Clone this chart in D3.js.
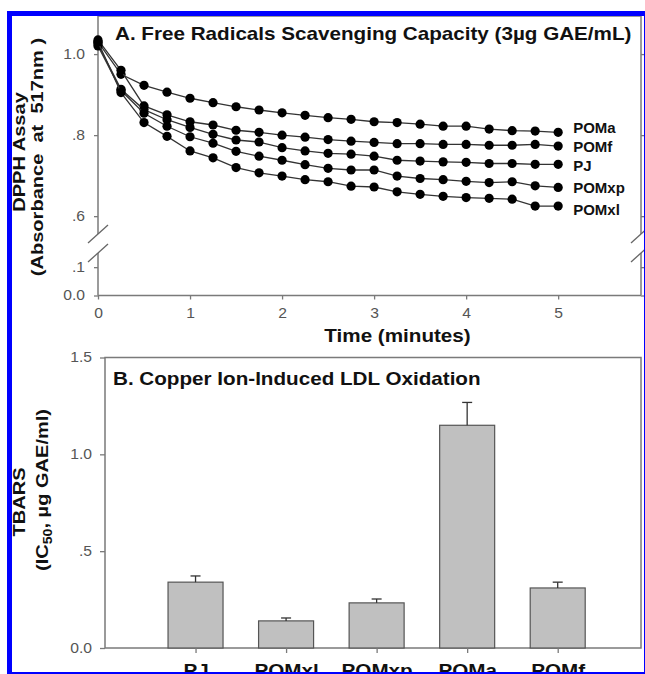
<!DOCTYPE html>
<html>
<head>
<meta charset="utf-8">
<title>DPPH scavenging and LDL oxidation</title>
<style>
  body { margin: 0; background: #fff; }
  svg text { font-family: "Liberation Sans", Arial, sans-serif; white-space: pre; }
</style>
</head>
<body>
<svg id="chart" width="645" height="674"></svg>
<script src="https://cdnjs.cloudflare.com/ajax/libs/d3/7.8.5/d3.min.js"></script>
<script>
// ---- panel A data (absorbance at 517nm vs time) ----
var times  = [0, 0.25, 0.5, 0.75, 1, 1.25, 1.5, 1.75, 2, 2.25, 2.5, 2.75, 3, 3.25, 3.5, 3.75, 4, 4.25, 4.5, 4.75, 5];
var pomA   = [1.030, 0.950, 0.923, 0.906, 0.891, 0.880, 0.870, 0.862, 0.855, 0.849, 0.843, 0.839, 0.833, 0.831, 0.827, 0.822, 0.822, 0.815, 0.811, 0.810, 0.807];
var pomF   = [1.035, 0.960, 0.872, 0.850, 0.833, 0.825, 0.812, 0.807, 0.800, 0.795, 0.789, 0.785, 0.782, 0.779, 0.779, 0.777, 0.777, 0.775, 0.775, 0.777, 0.773];
var pj     = [1.025, 0.913, 0.863, 0.838, 0.819, 0.802, 0.788, 0.783, 0.769, 0.761, 0.755, 0.753, 0.748, 0.738, 0.736, 0.734, 0.733, 0.730, 0.730, 0.728, 0.728];
var pomXp  = [1.020, 0.910, 0.854, 0.822, 0.796, 0.780, 0.760, 0.748, 0.738, 0.727, 0.718, 0.714, 0.714, 0.699, 0.693, 0.690, 0.686, 0.683, 0.685, 0.675, 0.671];
var pomXl  = [1.030, 0.905, 0.831, 0.797, 0.761, 0.744, 0.720, 0.707, 0.699, 0.690, 0.685, 0.674, 0.672, 0.660, 0.654, 0.649, 0.646, 0.644, 0.642, 0.625, 0.625];
var seriesNames = ["POMa", "POMf", "PJ", "POMxp", "POMxl"];
var seriesValues = [pomA, pomF, pj, pomXp, pomXl];

var xTicksA = [0, 1, 2, 3, 4, 5];
var yTicksA = [0, 0.1, 0.6, 0.8, 1.0];
var yTickLabelsA = ["0.0", ".1", ".6", ".8", "1.0"];

// ---- panel B data (TBARS IC50) ----
var barNames  = ["PJ", "POMxl", "POMxp", "POMa", "POMf"];
var barValues = [0.340, 0.140, 0.233, 1.150, 0.310];
var barErrors = [0.032, 0.015, 0.020, 0.118, 0.030];
var yTicksB = [0, 0.5, 1.0, 1.5];
var yTickLabelsB = ["0.0", ".5", "1.0", "1.5"];

var svg = d3.select("#chart");
var axisColor = "#7a7a7a", tickText = "#555";
var sxBold = 1.18, sxTick = 1.12;   // the figure's lettering is a little wider than Arial
var labelNudge = [-5, 0, 1, 0, 3];  // small vertical shifts of the end labels

function label(x, y, txt, size, opts) {
  opts = opts || {};
  var s = opts.sx || sxBold;
  var t = svg.append("text")
    .attr("transform", "translate(" + x + "," + y + ")" + (opts.rotate ? " rotate(" + opts.rotate + ")" : "") + " scale(" + s + ",1)")
    .attr("text-anchor", opts.anchor || "start")
    .attr("font-size", size)
    .attr("font-weight", "bold")
    .attr("fill", "#111");
  if (opts.baseline) t.attr("dominant-baseline", opts.baseline);
  t.text(txt);
  return t;
}

function styleAxis(ax, s) {
  ax.select(".domain").remove();
  ax.selectAll(".tick line").attr("stroke", axisColor).attr("stroke-width", 1.3);
  ax.selectAll(".tick text").attr("fill", tickText).attr("font-size", 14)
    .attr("font-family", "Liberation Sans, Arial, sans-serif")
    .each(function () {
      var t = d3.select(this), x = +t.attr("x") || 0;
      t.attr("x", x / s).attr("transform", "scale(" + s + ",1)");
    });
}

// ================= PANEL A =================
var A = {left: 98, right: 641, top: 16, bottom: 295.5};
var xA = d3.scaleLinear().domain([0, 5.9]).range([A.left, A.right]);
// broken y axis: 0-0.15 below the break, 0.556-1.094 above it
var yA = d3.scaleLinear().domain([0, 0.15, 0.556, 1.094]).range([A.bottom, 253, 234, A.top]);

var gA = svg.append("g");
gA.append("line").attr("x1", A.left).attr("x2", A.right).attr("y1", A.bottom).attr("y2", A.bottom).attr("stroke", axisColor).attr("stroke-width", 1.5);
gA.append("line").attr("x1", A.left).attr("x2", A.right).attr("y1", A.top).attr("y2", A.top).attr("stroke", axisColor).attr("stroke-width", 1.5);
[A.left, A.right].forEach(function (x) {
  gA.append("line").attr("x1", x).attr("x2", x).attr("y1", A.bottom).attr("y2", yA(0.15)).attr("stroke", axisColor).attr("stroke-width", 1.5);
  gA.append("line").attr("x1", x).attr("x2", x).attr("y1", yA(0.556)).attr("y2", A.top).attr("stroke", axisColor).attr("stroke-width", 1.5);
  [yA(0.556), yA(0.15)].forEach(function (y) {
    gA.append("line").attr("x1", x - 10).attr("x2", x + 10).attr("y1", y + 9).attr("y2", y - 9)
      .attr("stroke", "#666").attr("stroke-width", 1.3);
  });
});

var axYA = gA.append("g").attr("transform", "translate(" + A.left + ",0)")
  .call(d3.axisLeft(yA).tickValues(yTicksA).tickFormat(function (d, i) { return yTickLabelsA[i]; }).tickSize(4).tickPadding(9));
var axYA2 = gA.append("g").attr("transform", "translate(" + A.right + ",0)")
  .call(d3.axisRight(yA).tickValues(yTicksA).tickFormat("").tickSize(4));
var axXA = gA.append("g").attr("transform", "translate(0," + A.bottom + ")")
  .call(d3.axisBottom(xA).tickValues(xTicksA).tickFormat(d3.format("d")).tickSize(4).tickPadding(9));
[axYA, axYA2, axXA].forEach(function (ax) { styleAxis(ax, sxTick); });

var line = d3.line().x(function (d, i) { return xA(times[i]); }).y(function (d) { return yA(d); });
seriesValues.forEach(function (vals, k) {
  gA.append("path").datum(vals).attr("d", line).attr("fill", "none").attr("stroke", "#333").attr("stroke-width", 1.3);
  gA.selectAll(".dot" + k).data(vals).enter().append("circle")
    .attr("cx", function (d, i) { return xA(times[i]); })
    .attr("cy", function (d) { return yA(d); })
    .attr("r", 4.6).attr("fill", "#000");
  label(xA(5) + 15, yA(vals[vals.length - 1]) + labelNudge[k], seriesNames[k], 15, {baseline: "central", sx: 1.0});
});

label(115, 40, "A. Free Radicals Scavenging Capacity (3\u00b5g GAE/mL)", 17.5);
label((A.left + A.right) / 2 + 28, 342, "Time (minutes)", 17.5, {anchor: "middle"});
label(25, 152, "DPPH Assay", 17, {rotate: -90, anchor: "middle"});
label(43, 157, "(Absorbance  at  517nm )", 17, {rotate: -90, anchor: "middle"});

// ================= PANEL B =================
var B = {left: 105, right: 641, top: 357.5, bottom: 648};
var xB = d3.scaleLinear().domain([0, 5.92]).range([B.left, B.right]);
var yB = d3.scaleLinear().domain([0, 1.5]).range([B.bottom, B.top]);
var barW = 55;

var gB = svg.append("g");
gB.append("rect").attr("x", B.left).attr("y", B.top).attr("width", B.right - B.left).attr("height", B.bottom - B.top)
  .attr("fill", "none").attr("stroke", axisColor).attr("stroke-width", 1.5);

gB.selectAll(".bar").data(barValues).enter().append("rect")
  .attr("x", function (d, i) { return xB(i + 1) - barW / 2; })
  .attr("y", function (d) { return yB(d); })
  .attr("width", barW)
  .attr("height", function (d) { return yB(0) - yB(d); })
  .attr("fill", "#c0c0c0").attr("stroke", "#555").attr("stroke-width", 1.2);

barValues.forEach(function (v, i) {
  var cx = xB(i + 1), top = yB(v + barErrors[i]);
  gB.append("line").attr("x1", cx).attr("x2", cx).attr("y1", yB(v)).attr("y2", top).attr("stroke", "#333").attr("stroke-width", 1.3);
  gB.append("line").attr("x1", cx - 5).attr("x2", cx + 5).attr("y1", top).attr("y2", top).attr("stroke", "#333").attr("stroke-width", 1.3);
});

var axYB = gB.append("g").attr("transform", "translate(" + B.left + ",0)")
  .call(d3.axisLeft(yB).tickValues(yTicksB).tickFormat(function (d, i) { return yTickLabelsB[i]; }).tickSize(5).tickPadding(8));
var axXB = gB.append("g").attr("transform", "translate(0," + B.bottom + ")")
  .call(d3.axisBottom(xB).tickValues([1, 2, 3, 4, 5]).tickFormat(function (d) { return barNames[d - 1]; }).tickSize(5).tickPadding(12));
styleAxis(axYB, sxTick);
styleAxis(axXB, sxBold);
axXB.selectAll(".tick text").attr("fill", "#111").attr("font-size", 17.5).attr("font-weight", "bold");

label(113, 385, "B. Copper Ion-Induced LDL Oxidation", 17.5);
label(25, 502, "TBARS", 17, {rotate: -90, anchor: "middle"});
var yl = label(48, 490, "", 17, {rotate: -90, anchor: "middle"});
yl.append("tspan").text("(IC");
yl.append("tspan").attr("font-size", 12).attr("dy", 4).text("50");
yl.append("tspan").attr("dy", -4).text(", \u00b5g GAE/ml)");

// blue frame round the figure
svg.append("rect").attr("x", 9.5).attr("y", 13.5).attr("width", 637).attr("height", 661)
  .attr("fill", "none").attr("stroke", "#0000ff").attr("stroke-width", 5);
</script>
</body>
</html>
